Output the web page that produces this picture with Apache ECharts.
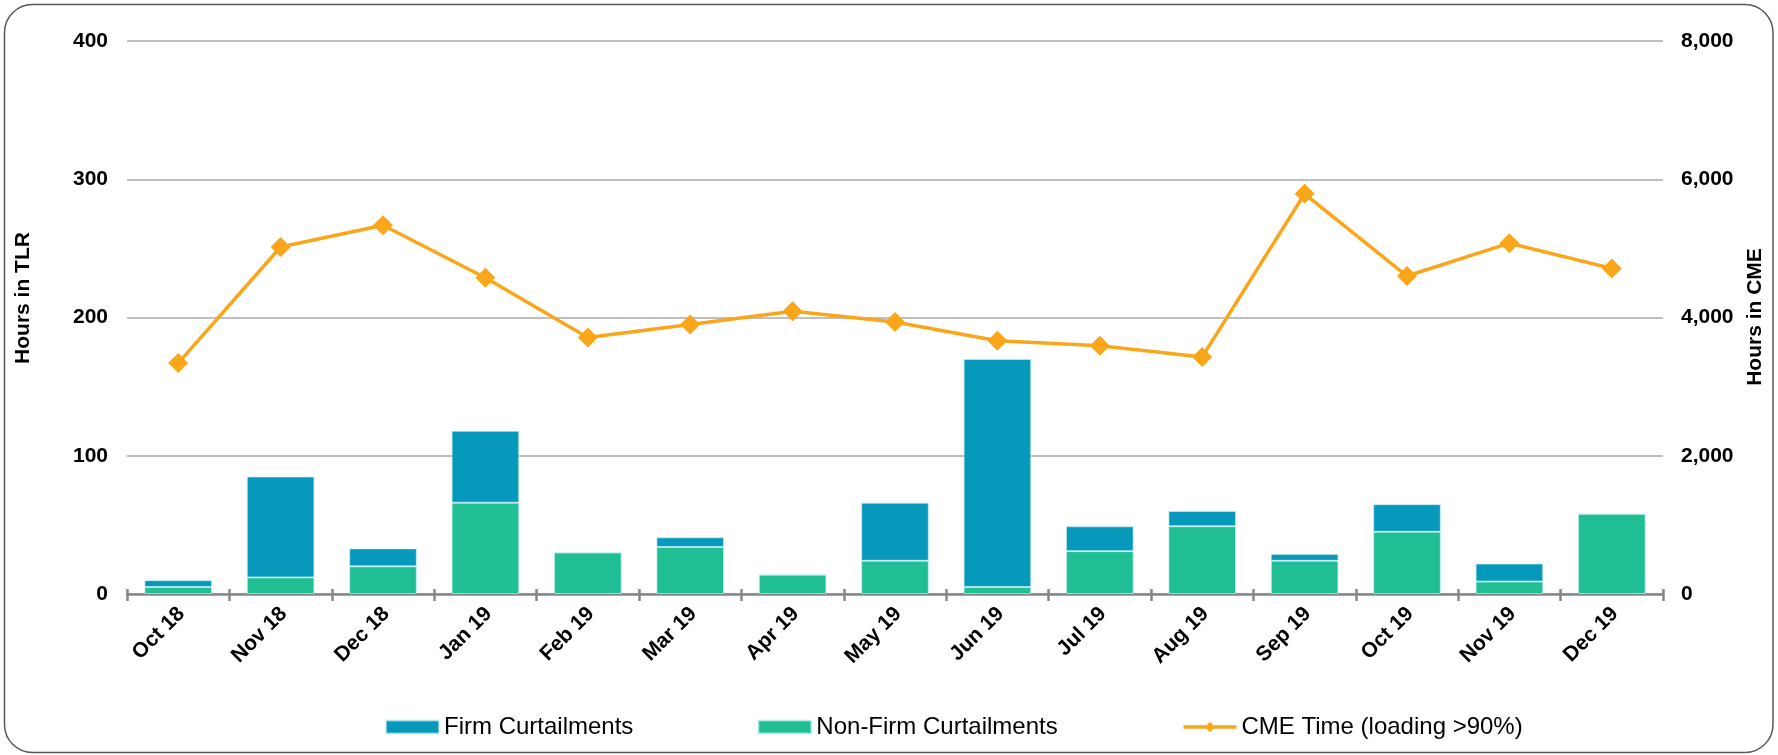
<!DOCTYPE html>
<html>
<head>
<meta charset="utf-8">
<script src="https://cdn.jsdelivr.net/npm/echarts@6/dist/echarts.min.js"></script>
<style>
html,body{margin:0;padding:0;background:#fff;}
#chart{width:1778px;height:755px;}
</style>
</head>
<body>
<div id="chart"></div>
<script>
const categories = ['Oct 18','Nov 18','Dec 18','Jan 19','Feb 19','Mar 19','Apr 19','May 19','Jun 19','Jul 19','Aug 19','Sep 19','Oct 19','Nov 19','Dec 19'];
const nonFirmCurtailments = [5, 12, 20, 66, 30, 34, 14, 24, 5, 31, 49, 24, 45, 9, 58];
const firmCurtailments = [5, 73, 13, 52, 0, 7, 0, 42, 165, 18, 11, 5, 20, 13, 0];
const cmeTime = [3340, 5020, 5335, 4575, 3710, 3900, 4090, 3935, 3665, 3590, 3430, 5790, 4600, 5075, 4710];
const leftTicks = {min: 0, max: 400, interval: 100};
const rightTicks = {min: 0, max: 8000, interval: 2000};
const leftAxisName = 'Hours in TLR';
const rightAxisName = 'Hours in CME';
const seriesNames = ['Firm Curtailments', 'Non-Firm Curtailments', 'CME Time (loading >90%)'];

const FONT = '"Liberation Sans", Arial, Helvetica, sans-serif';
const chart = echarts.init(document.getElementById('chart'), null, {renderer: 'canvas'});
const fmt = v => v.toLocaleString('en-US');

chart.setOption({
  animation: false,
  backgroundColor: '#ffffff',
  grid: {left: 127, right: 115, top: 41, bottom: 161},
  legend: {
    data: [
      {name: seriesNames[0], icon: 'rect'},
      {name: seriesNames[1], icon: 'rect'},
      {name: seriesNames[2]}
    ],
    left: 380, top: 709,
    itemWidth: 53, itemHeight: 13, itemGap: 124,
    lineStyle: {width: 3.5},
    textStyle: {fontFamily: FONT, fontSize: 24, color: '#000', lineHeight: 26}
  },
  xAxis: [{
    type: 'category',
    data: categories,
    axisLine: {lineStyle: {color: '#868686', width: 2.5}},
    axisTick: {show: true, length: 7, lineStyle: {color: '#868686', width: 2.5}},
    axisLabel: {
      rotate: 45, interval: 0, margin: 5,
      verticalAlign: 'top', padding: [0, 6, 0, 0],
      fontFamily: FONT, fontSize: 21, fontWeight: 'bold', color: '#000'
    },
    splitLine: {show: false}
  }, {
    type: 'category',
    data: categories,
    position: 'bottom',
    axisLine: {show: false},
    axisTick: {show: true, inside: true, length: 5, lineStyle: {color: '#868686', width: 2.5}},
    axisLabel: {show: false},
    splitLine: {show: false}
  }],
  yAxis: [{
    type: 'value',
    min: leftTicks.min, max: leftTicks.max, interval: leftTicks.interval,
    axisLine: {show: false}, axisTick: {show: false},
    axisLabel: {margin: 19, fontFamily: FONT, fontSize: 21, fontWeight: 'bold', color: '#000'},
    splitLine: {lineStyle: {color: '#bfbfbf', width: 2}}
  }, {
    type: 'value',
    min: rightTicks.min, max: rightTicks.max, interval: rightTicks.interval,
    position: 'right',
    axisLine: {show: false}, axisTick: {show: false},
    axisLabel: {margin: 18, formatter: fmt, fontFamily: FONT, fontSize: 21, fontWeight: 'bold', color: '#000'},
    splitLine: {show: false}
  }],
  graphic: [{
    type: 'rect',
    shape: {x: 4.5, y: 4.5, width: 1768.5, height: 748, r: 28},
    style: {fill: 'none', stroke: '#595959', lineWidth: 1.5},
    silent: true, z: -1
  }, {
    type: 'text', x: 23, y: 298, rotation: Math.PI / 2,
    style: {text: leftAxisName, align: 'center', verticalAlign: 'middle', font: 'bold 21px ' + FONT, fill: '#000'}
  }, {
    type: 'text', x: 1755, y: 317, rotation: Math.PI / 2,
    style: {text: rightAxisName, align: 'center', verticalAlign: 'middle', font: 'bold 21px ' + FONT, fill: '#000'}
  }],
  series: [{
    name: seriesNames[1], type: 'bar', stack: 'tlr', data: nonFirmCurtailments,
    barCategoryGap: '34%',
    itemStyle: {color: '#20bf93', borderColor: 'rgba(200,240,245,0.6)', borderWidth: 1}
  }, {
    name: seriesNames[0], type: 'bar', stack: 'tlr', data: firmCurtailments,
    barCategoryGap: '34%',
    itemStyle: {color: '#0799bb', borderColor: 'rgba(200,240,245,0.6)', borderWidth: 1}
  }, {
    name: seriesNames[2], type: 'line', yAxisIndex: 1, data: cmeTime,
    symbol: 'diamond', symbolSize: 20,
    lineStyle: {color: '#faa61a', width: 3.5},
    itemStyle: {color: '#faa61a'}
  }]
});
</script>
</body>
</html>
